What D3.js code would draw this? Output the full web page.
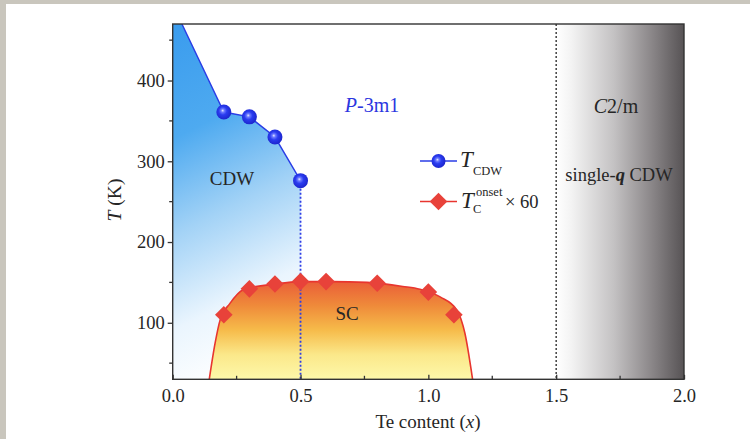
<!DOCTYPE html>
<html><head><meta charset="utf-8">
<script src="https://cdn.jsdelivr.net/npm/d3@7"></script>
<style>
html,body{margin:0;padding:0;background:#c9c6bd;}
svg{display:block;}
text{font-family:"Liberation Serif","Times New Roman",serif;fill:#262626;}
</style></head>
<body>
<svg id="chart" width="750" height="439"></svg>
<script>
// ---- data ----
const cdwX = [0.2, 0.3, 0.4, 0.5];
const cdwT = [361, 355, 330, 276];
const cdwEdgeX = [0.0];           // boundary extrapolated to x = 0 (clipped by frame)
const cdwEdgeT = [494];
const scX = [0.2, 0.3, 0.4, 0.5, 0.6, 0.8, 1.0, 1.1];
const scT = [110, 142, 148, 151, 151, 149, 138, 110];
const domeX = [0.143, 0.166, 0.185, 0.224, 0.276, 0.40, 0.5, 0.62, 0.76, 0.9, 0.967, 1.046, 1.111, 1.143, 1.173];
const domeT = [30, 75, 103, 124, 141, 148, 151, 151, 150, 145, 141.5, 132, 116, 87, 30];
const xTicks = [0.0, 0.5, 1.0, 1.5, 2.0];
const xMinor = [0.25, 0.75, 1.25, 1.75];
const yTicks = [100, 200, 300, 400];
const yMinor = [50, 150, 250, 350, 450];
const xDomain = [0, 2];
const yDomain = [30, 470];
const phaseBoundaryX = [1.5];

// ---- layout ----
const L = 172.7, R = 684, T = 24, B = 379.3;
const svg = d3.select("#chart");
const x = d3.scaleLinear().domain(xDomain).range([L, R]);
const y = d3.scaleLinear().domain(yDomain).range([B, T]);

// page background (white panel)
svg.append("rect").attr("x", 6).attr("y", 4).attr("width", 744).attr("height", 435).attr("fill", "#fff");

const defs = svg.append("defs");
defs.append("clipPath").attr("id", "plotclip").append("rect")
  .attr("x", L).attr("y", T).attr("width", R - L).attr("height", B - T);

// blue CDW gradient
const gB = defs.append("linearGradient").attr("id", "gBlue").attr("gradientUnits", "userSpaceOnUse")
  .attr("x1", x(0)).attr("y1", y(470)).attr("x2", x(0.6)).attr("y2", y(90));
[[0, "#3a9cee"], [0.3, "#4eaaf0"], [0.55, "#a2d2f6"], [0.8, "#eaf5fe"], [1, "#ffffff"]]
  .forEach(([o, c]) => gB.append("stop").attr("offset", o).attr("stop-color", c));

// gray gradient
const gG = defs.append("linearGradient").attr("id", "gGray").attr("gradientUnits", "userSpaceOnUse")
  .attr("x1", x(1.5)).attr("y1", 0).attr("x2", x(2.0)).attr("y2", 0);
[[0, "#ffffff"], [0.12, "#f3f3f3"], [0.45, "#c4c2c3"], [0.75, "#8a8688"], [1, "#575355"]]
  .forEach(([o, c]) => gG.append("stop").attr("offset", o).attr("stop-color", c));

// SC gradient
const gS = defs.append("linearGradient").attr("id", "gSC").attr("gradientUnits", "userSpaceOnUse")
  .attr("x1", 0).attr("y1", y(152)).attr("x2", 0).attr("y2", y(30));
[[0, "#ea5d38"], [0.25, "#ef8a3a"], [0.5, "#f6bb4a"], [0.75, "#fbe88a"], [1, "#fdf8aa"]]
  .forEach(([o, c]) => gS.append("stop").attr("offset", o).attr("stop-color", c));

// ball gradient
const gC = defs.append("radialGradient").attr("id", "gBall").attr("cx", "0.45").attr("cy", "0.45").attr("r", "0.6").attr("fx", "0.42").attr("fy", "0.4");
[[0, "#e6ecff"], [0.18, "#6f7dff"], [0.45, "#2a3cf0"], [1, "#1a22c8"]]
  .forEach(([o, c]) => gC.append("stop").attr("offset", o).attr("stop-color", c));

const plot = svg.append("g").attr("clip-path", "url(#plotclip)");

// CDW shaded region
const cdwAll = cdwEdgeX.map((v, i) => ({x: v, t: cdwEdgeT[i]})).concat(cdwX.map((v, i) => ({x: v, t: cdwT[i]})));
plot.append("path").datum(cdwAll)
  .attr("d", d3.area().x(d => x(d.x)).y0(y(yDomain[0])).y1(d => y(d.t)))
  .attr("fill", "url(#gBlue)");

// gray C2/m region
plot.append("rect").attr("x", x(1.5)).attr("y", T).attr("width", x(2) - x(1.5)).attr("height", B - T)
  .attr("fill", "url(#gGray)");

// SC dome
const dome = domeX.map((v, i) => ({x: v, t: domeT[i]}));
plot.append("path").datum(dome)
  .attr("d", d3.area().x(d => x(d.x)).y0(y(yDomain[0])).y1(d => y(d.t)).curve(d3.curveMonotoneX))
  .attr("fill", "url(#gSC)");
plot.append("path").datum(dome)
  .attr("d", d3.line().x(d => x(d.x)).y(d => y(d.t)).curve(d3.curveMonotoneX))
  .attr("fill", "none").attr("stroke", "#e8352f").attr("stroke-width", 1.6);

// dotted lines
plot.append("line").attr("x1", x(cdwX[3])).attr("x2", x(cdwX[3]))
  .attr("y1", y(cdwT[3])).attr("y2", y(yDomain[0]))
  .attr("stroke", "#2f3ee6").attr("stroke-width", 1.8).attr("stroke-dasharray", "2,2");
plot.selectAll(".pb").data(phaseBoundaryX).enter().append("line")
  .attr("x1", d => x(d)).attr("x2", d => x(d)).attr("y1", T).attr("y2", B)
  .attr("stroke", "#333").attr("stroke-width", 1.4).attr("stroke-dasharray", "2,2");

// CDW line
plot.append("path").datum(cdwAll)
  .attr("d", d3.line().x(d => x(d.x)).y(d => y(d.t)))
  .attr("fill", "none").attr("stroke", "#2a3de6").attr("stroke-width", 1.4);

// markers
const diamond = d3.symbol().type(d3.symbolSquare).size(155);
svg.selectAll(".dia").data(scX.map((v, i) => ({x: v, t: scT[i]}))).enter().append("path")
  .attr("d", diamond).attr("transform", d => `translate(${x(d.x)},${y(d.t)}) rotate(45)`)
  .attr("fill", "#e8423a");
svg.selectAll(".ball").data(cdwX.map((v, i) => ({x: v, t: cdwT[i]}))).enter().append("circle")
  .attr("cx", d => x(d.x)).attr("cy", d => y(d.t)).attr("r", 7.5).attr("fill", "url(#gBall)");

// region labels
svg.append("text").attr("x", 232).attr("y", 185).attr("text-anchor", "middle").attr("font-size", 19).text("CDW");
svg.append("text").attr("x", 347).attr("y", 320).attr("text-anchor", "middle").attr("font-size", 19).text("SC");
const p = svg.append("text").attr("x", 372).attr("y", 112).attr("text-anchor", "middle").attr("font-size", 20)
  .style("fill", "#2b36e0");
p.append("tspan").attr("font-style", "italic").style("fill", "#2b36e0").text("P");
p.append("tspan").style("fill", "#2b36e0").text("-3m1");
const c2 = svg.append("text").attr("x", 616).attr("y", 113).attr("text-anchor", "middle").attr("font-size", 20);
c2.append("tspan").attr("font-style", "italic").text("C");
c2.append("tspan").text("2/m");
const sq = svg.append("text").attr("x", 619).attr("y", 181).attr("text-anchor", "middle").attr("font-size", 18.5);
sq.append("tspan").text("single-");
sq.append("tspan").attr("font-style", "italic").attr("font-weight", "bold").text("q");
sq.append("tspan").text(" CDW");

// legend
const lg = svg.append("g");
lg.append("line").attr("x1", 420).attr("x2", 457).attr("y1", 161).attr("y2", 161).attr("stroke", "#2a3de6").attr("stroke-width", 1.6);
lg.append("circle").attr("cx", 438.5).attr("cy", 161).attr("r", 7).attr("fill", "url(#gBall)");
lg.append("text").attr("x", 460).attr("y", 167).attr("font-size", 23).attr("font-style", "italic").text("T");
lg.append("text").attr("x", 473).attr("y", 174.5).attr("font-size", 12.5).text("CDW");
lg.append("line").attr("x1", 420).attr("x2", 457).attr("y1", 201.5).attr("y2", 201.5).attr("stroke", "#e8352f").attr("stroke-width", 1.6);
lg.append("path").attr("d", diamond).attr("transform", "translate(438.5,201.5) rotate(45)").attr("fill", "#e8423a");
lg.append("text").attr("x", 461).attr("y", 207.5).attr("font-size", 23).attr("font-style", "italic").text("T");
lg.append("text").attr("x", 476).attr("y", 195.5).attr("font-size", 12.5).text("onset");
lg.append("text").attr("x", 473).attr("y", 213).attr("font-size", 12.5).text("C");
lg.append("text").attr("x", 505).attr("y", 207.5).attr("font-size", 18.5).text("× 60");

// frame
svg.append("rect").attr("x", L).attr("y", T).attr("width", R - L).attr("height", B - T)
  .attr("fill", "none").attr("stroke", "#333").attr("stroke-width", 1.4);

// axes
const xAxis = svg.append("g").attr("transform", `translate(0,${B})`)
  .call(d3.axisBottom(x).tickValues(xTicks).tickFormat(d3.format(".1f")).tickSizeInner(-4.5).tickSizeOuter(0).tickPadding(10));
xAxis.append("g").selectAll("line").data(xMinor).enter().append("line")
  .attr("x1", d => x(d)).attr("x2", d => x(d)).attr("y1", 0).attr("y2", -3.5).attr("stroke", "#333").attr("stroke-width", 1.3);
const yAxis = svg.append("g").attr("transform", `translate(${L},0)`)
  .call(d3.axisLeft(y).tickValues(yTicks).tickSizeInner(5).tickSizeOuter(0).tickPadding(3));
yAxis.append("g").selectAll("line").data(yMinor).enter().append("line")
  .attr("y1", d => y(d)).attr("y2", d => y(d)).attr("x1", 0).attr("x2", -3.5).attr("stroke", "#333").attr("stroke-width", 1.3);
[xAxis, yAxis].forEach(a => {
  a.select(".domain").remove();
  a.selectAll(".tick line").attr("stroke", "#333").attr("stroke-width", 1.3);
  a.selectAll(".tick text").attr("font-size", 18.5).attr("font-family", "Liberation Serif").style("fill", "#262626");
});

// axis titles
const xt = svg.append("text").attr("x", 428).attr("y", 428).attr("text-anchor", "middle").attr("font-size", 19);
xt.append("tspan").text("Te content (");
xt.append("tspan").attr("font-style", "italic").text("x");
xt.append("tspan").text(")");
const yt = svg.append("text").attr("transform", "translate(121,200) rotate(-90)").attr("text-anchor", "middle").attr("font-size", 19.5);
yt.append("tspan").attr("font-style", "italic").text("T");
yt.append("tspan").text(" (K)");
</script>
</body></html>
